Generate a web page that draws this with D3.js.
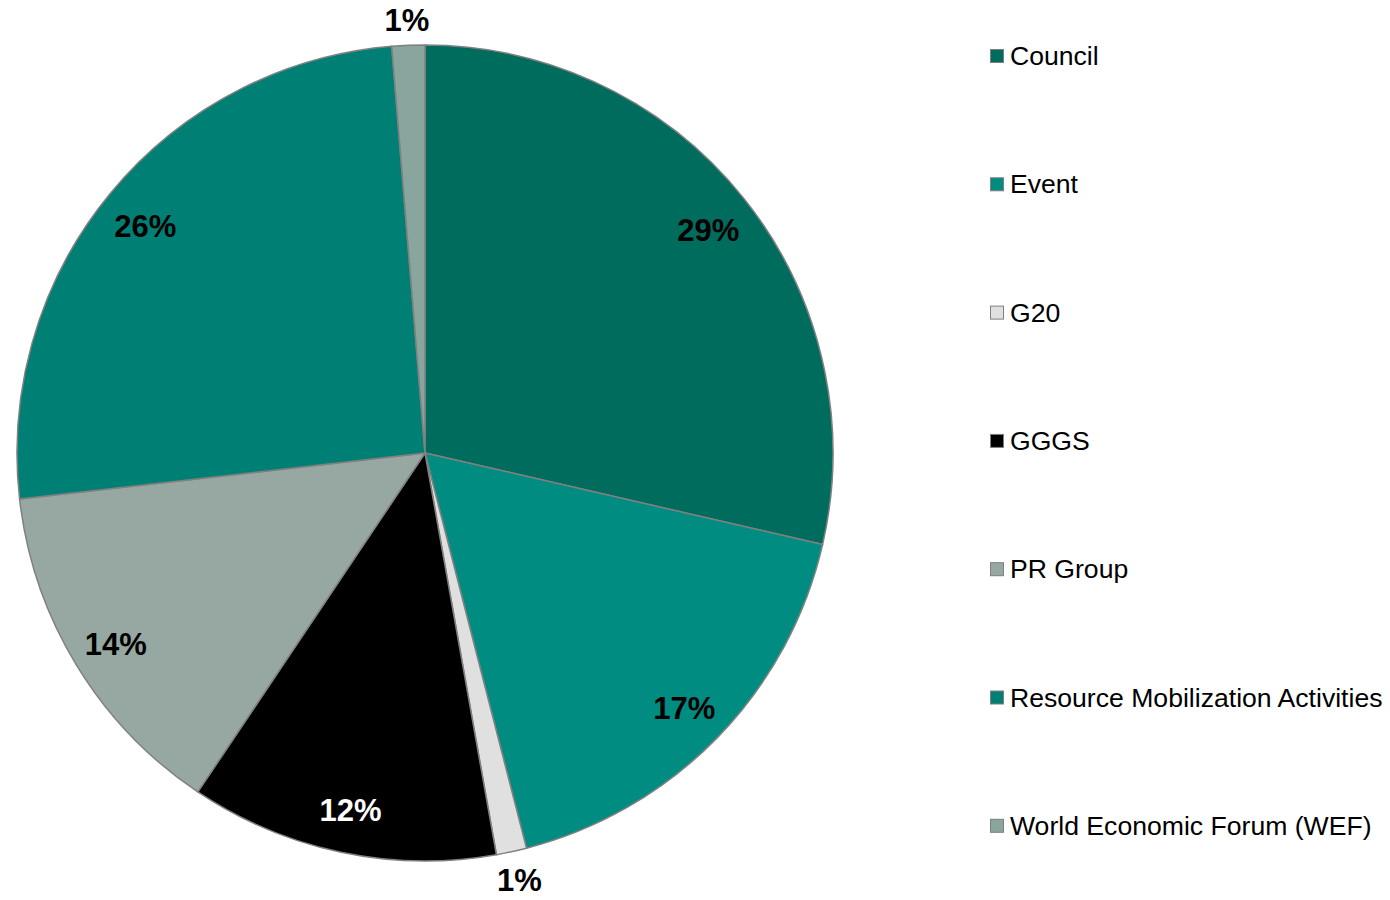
<!DOCTYPE html>
<html>
<head>
<meta charset="utf-8">
<script src="https://cdn.jsdelivr.net/npm/d3@7/dist/d3.min.js"></script>
<style>
  html, body { margin: 0; padding: 0; background: #ffffff; }
  svg { display: block; font-family: "Liberation Sans", Arial, sans-serif; }
</style>
</head>
<body>
<svg id="chart" width="1390" height="900"></svg>
<script>
// Share of activities by category (percent)
const categories = ["Council", "Event", "G20", "GGGS", "PR Group", "Resource Mobilization Activities", "World Economic Forum (WEF)"];
const shares = [28.6, 17.4, 1.2, 12.2, 13.8, 25.5, 1.3];
const colors = ["#006c5e", "#008c80", "#e0e0e0", "#000000", "#96a8a1", "#007f74", "#88a69e"];
const labelColors = ["#000", "#000", "#000", "#fff", "#000", "#000", "#000"];

const svg = d3.select("#chart");
const cx = 425, cy = 453, R = 408;

const data = categories.map((c, i) => ({ name: c, value: shares[i], color: colors[i], label: labelColors[i] }));

const pie = d3.pie().value(d => d.value).sort(null);
const arcs = pie(data);
const arc = d3.arc().innerRadius(0).outerRadius(R);

const g = svg.append("g").attr("transform", `translate(${cx},${cy})`);

g.selectAll("path.slice")
  .data(arcs)
  .enter().append("path")
  .attr("class", "slice")
  .attr("d", arc)
  .attr("fill", d => d.data.color)
  .attr("stroke", "#808080")
  .attr("stroke-width", 1.5)
  .attr("stroke-linejoin", "round");

// Percentage labels: inside for large slices, just outside the rim for tiny ones
const total = d3.sum(shares);
const pctOf = v => Math.round(v / total * 1000) / 10;
g.selectAll("text.pct")
  .data(arcs)
  .enter().append("text")
  .attr("class", "pct")
  .attr("text-anchor", "middle")
  .attr("dominant-baseline", "central")
  .attr("font-size", 31)
  .attr("font-weight", "bold")
  .attr("fill", d => d.data.label)
  .attr("transform", d => {
    const a = (d.startAngle + d.endAngle) / 2;
    const s = Math.sin(a), c = Math.cos(a);
    if (pctOf(d.data.value) < 3) {
      const r = R + 14;
      const x = s * r + s * 23;
      const y = -c * r - c * 13 + 2;
      return `translate(${x},${y})`;
    }
    const r = 362;
    return `translate(${s * r},${-c * r + 3})`;
  })
  .text(d => Math.round(pctOf(d.data.value)) + "%");

// Legend
const legend = svg.append("g").attr("transform", "translate(990,56)");
const rowH = 128.3;
const rows = legend.selectAll("g.row")
  .data(data)
  .enter().append("g")
  .attr("class", "row")
  .attr("transform", (d, i) => `translate(0,${i * rowH})`);

rows.append("rect")
  .attr("x", 0.5).attr("y", -6.5)
  .attr("width", 13).attr("height", 13)
  .attr("fill", d => d.color)
  .attr("stroke", "#7f7f7f")
  .attr("stroke-width", 1);

rows.append("text")
  .attr("x", 20)
  .attr("y", 0)
  .attr("dominant-baseline", "central")
  .attr("font-size", 26.6)
  .attr("fill", "#000")
  .text(d => d.name);
</script>
</body>
</html>
